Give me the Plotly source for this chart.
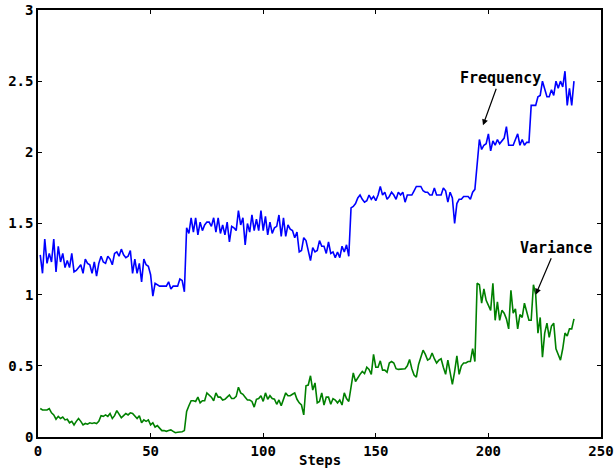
import plotly.graph_objects as go

steps = list(range(1, 239))

frequency = [
    1.28, 1.15, 1.39, 1.22, 1.29, 1.23, 1.39, 1.16, 1.34, 1.23,
    1.29, 1.19, 1.24, 1.19, 1.29, 1.16, 1.17, 1.19, 1.21, 1.15,
    1.25, 1.22, 1.21, 1.15, 1.23, 1.13, 1.22, 1.27, 1.23, 1.22,
    1.27, 1.25, 1.21, 1.29, 1.30, 1.27, 1.32, 1.28, 1.26, 1.27,
    1.31, 1.15, 1.25, 1.15, 1.22, 1.09, 1.25, 1.21, 1.20, 1.14,
    0.99, 1.08, 1.07, 1.06, 1.06, 1.06, 1.06, 1.09, 1.04, 1.06,
    1.06, 1.06, 1.11, 1.10, 1.02,
    1.47, 1.43, 1.54, 1.44, 1.54, 1.42, 1.51, 1.45, 1.49, 1.51,
    1.51, 1.48, 1.54, 1.44, 1.54, 1.43, 1.49, 1.42, 1.51, 1.37,
    1.48, 1.47, 1.45, 1.59, 1.49, 1.54, 1.35, 1.50, 1.44, 1.56,
    1.45, 1.53, 1.45, 1.59, 1.45, 1.55, 1.42, 1.51, 1.43, 1.47,
    1.48, 1.56, 1.41, 1.54, 1.41, 1.49, 1.46, 1.45, 1.40, 1.44,
    1.30, 1.31, 1.40, 1.38, 1.31, 1.24, 1.33, 1.30, 1.31, 1.38,
    1.34, 1.34, 1.29, 1.37,
    1.29, 1.30, 1.26, 1.30, 1.26, 1.34, 1.30, 1.35, 1.27, 1.61,
    1.62, 1.64, 1.68, 1.70, 1.67, 1.65, 1.66, 1.70, 1.67, 1.69,
    1.66, 1.70, 1.76, 1.70, 1.72, 1.67, 1.69, 1.72, 1.70, 1.67,
    1.72, 1.70, 1.72, 1.65, 1.70, 1.70, 1.70, 1.73, 1.76, 1.76,
    1.76, 1.73, 1.72, 1.72, 1.70, 1.70, 1.75, 1.70, 1.70, 1.70,
    1.75, 1.73, 1.65, 1.72, 1.68, 1.50, 1.64, 1.67, 1.67, 1.69,
    1.69, 1.69,
    1.67, 1.72, 1.74, 1.90, 2.09, 2.02, 2.05, 2.06, 2.13, 2.01,
    2.08, 2.05, 2.09, 2.06, 2.08, 2.10, 2.18, 2.05, 2.05, 2.05,
    2.09, 2.13, 2.05, 2.09, 2.05, 2.07, 2.07, 2.33, 2.33, 2.33,
    2.39, 2.40, 2.50, 2.44, 2.39, 2.39, 2.44, 2.40, 2.50, 2.45,
    2.50, 2.46, 2.57, 2.33, 2.45, 2.33, 2.50,
]

variance = [
    0.20, 0.19, 0.19, 0.19, 0.20, 0.17, 0.155, 0.125, 0.145, 0.13,
    0.14, 0.12, 0.125, 0.10, 0.11, 0.085, 0.11, 0.13, 0.11, 0.085,
    0.095, 0.09, 0.10, 0.095, 0.10, 0.095, 0.11, 0.15, 0.145, 0.155,
    0.145, 0.165, 0.13, 0.15, 0.185, 0.16, 0.135, 0.15, 0.165, 0.155,
    0.17, 0.165, 0.15, 0.13, 0.15, 0.10, 0.12, 0.11, 0.12, 0.085,
    0.10, 0.07, 0.08, 0.06, 0.045, 0.045, 0.04, 0.045, 0.05, 0.04,
    0.03, 0.033, 0.033, 0.037, 0.045,
    0.18, 0.22, 0.255, 0.255, 0.25, 0.28, 0.24, 0.255, 0.255, 0.31,
    0.295, 0.28, 0.255, 0.31, 0.28, 0.28, 0.26, 0.265, 0.28, 0.295,
    0.27, 0.27, 0.285, 0.35, 0.31, 0.30, 0.28, 0.26, 0.26, 0.25,
    0.21, 0.265, 0.27, 0.29, 0.25, 0.31, 0.265, 0.29, 0.27, 0.265,
    0.23, 0.26, 0.22, 0.265, 0.31, 0.29, 0.29, 0.30, 0.31, 0.265,
    0.24, 0.225, 0.155, 0.36, 0.365, 0.43, 0.33, 0.38, 0.24, 0.25,
    0.31, 0.225, 0.28, 0.28,
    0.23, 0.27, 0.26, 0.24, 0.26, 0.225, 0.31, 0.27, 0.25, 0.35,
    0.45, 0.39, 0.42, 0.44, 0.46, 0.445, 0.49, 0.475, 0.44, 0.58,
    0.49, 0.49, 0.535, 0.47, 0.47, 0.455, 0.52, 0.53, 0.52, 0.48,
    0.475, 0.475, 0.475, 0.48, 0.50, 0.545, 0.48, 0.435, 0.42, 0.51,
    0.56, 0.61, 0.58, 0.54, 0.55, 0.59, 0.55, 0.52, 0.54, 0.55,
    0.49, 0.44, 0.54, 0.44, 0.37, 0.46, 0.57, 0.44, 0.50, 0.52,
    0.52, 0.53,
    0.53, 0.62, 0.53, 1.08, 1.07, 0.94, 1.04, 0.96, 0.93, 0.89,
    1.08, 0.82, 0.95, 0.82, 0.89, 0.87, 0.83, 0.76, 1.03, 0.87,
    0.90, 0.76, 0.86, 0.84, 0.94, 0.88, 0.82, 0.82, 1.07, 1.00,
    0.73, 0.84, 0.56, 0.73, 0.80, 0.70, 0.78, 0.80, 0.62, 0.58,
    0.54, 0.62, 0.73, 0.71, 0.76, 0.76, 0.83,
]

x_ticks = [0, 50, 100, 150, 200, 250]
y_ticks = [0, 0.5, 1, 1.5, 2, 2.5, 3]
y_tick_labels = ["0", "0.5", "1", "1.5", "2", "2.5", "3"]

FONT = "DejaVu Sans Mono"

fig = go.Figure()
fig.add_trace(go.Scatter(x=steps, y=frequency, mode="lines", name="Frequency",
                         line=dict(color="#0000ff", width=1.6)))
fig.add_trace(go.Scatter(x=steps, y=variance, mode="lines", name="Variance",
                         line=dict(color="#008000", width=1.6)))

fig.add_annotation(x=197.6, y=2.19, xref="x", yref="y", text="<b>Frequency</b>",
                   showarrow=True, ax=17, ay=-47, arrowhead=2, arrowsize=1,
                   arrowwidth=1.2, arrowcolor="black",
                   font=dict(family=FONT, size=15, color="black"))
fig.add_annotation(x=221, y=1.0, xref="x", yref="y", text="<b>Variance</b>",
                   showarrow=True, ax=20, ay=-47, arrowhead=2, arrowsize=1,
                   arrowwidth=1.2, arrowcolor="black",
                   font=dict(family=FONT, size=15, color="black"))
fig.add_annotation(x=0.5, y=-0.054, xref="paper", yref="paper", text="<b>Steps</b>",
                   showarrow=False, xanchor="center", yanchor="middle",
                   font=dict(family=FONT, size=14, color="black"))

axis_common = dict(showline=True, linecolor="black", linewidth=1.5, mirror="ticks",
                   ticks="inside", ticklen=4, tickcolor="black", showgrid=False,
                   zeroline=False, tickfont=dict(family=FONT, size=14, color="black", weight="bold"))

fig.update_xaxes(range=[0, 250], tickvals=x_ticks, ticktext=[str(t) for t in x_ticks],
                 **axis_common)
fig.update_yaxes(range=[0, 3], tickvals=y_ticks, ticktext=y_tick_labels, **axis_common)

fig.update_layout(width=616, height=469, showlegend=False,
                  margin=dict(l=38, r=15, t=10, b=32, autoexpand=False),
                  plot_bgcolor="white", paper_bgcolor="white")

fig.write_html("out.html", config={"displayModeBar": False},
               post_script="document.body.style.margin='0';document.body.style.overflow='hidden';")
